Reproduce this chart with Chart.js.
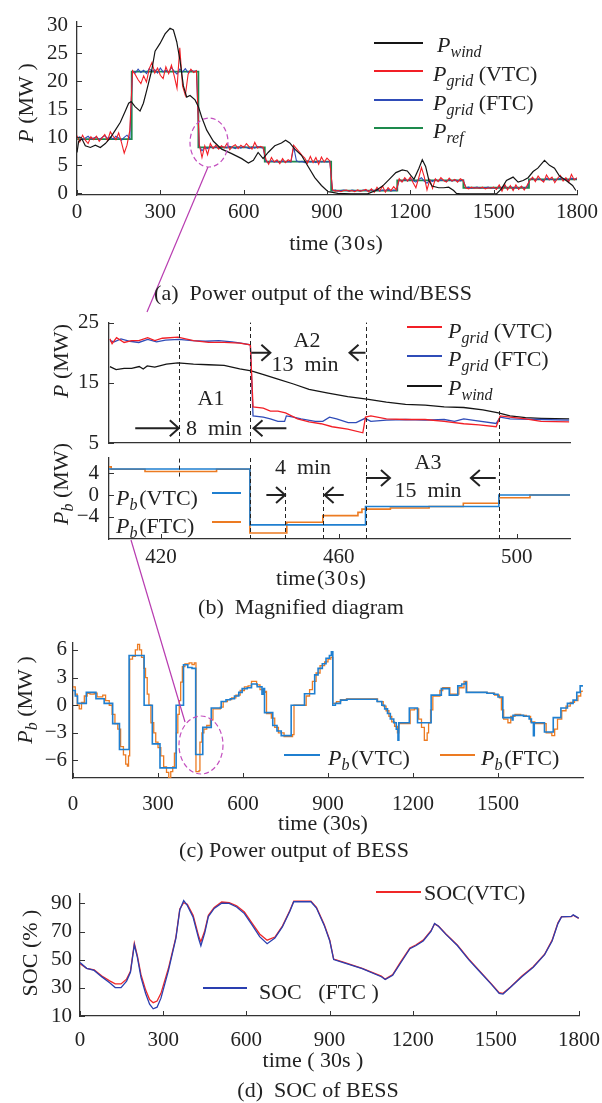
<!DOCTYPE html>
<html>
<head>
<meta charset="utf-8">
<script src="https://cdn.jsdelivr.net/npm/chart.js@4.4.1/dist/chart.umd.min.js"></script>
<style>
  html, body { margin: 0; padding: 0; background: #fff; }
  #page { position: relative; width: 602px; height: 1103px; overflow: hidden; background: #fff;
          font-family: "Liberation Serif", "DejaVu Serif", serif; color: #222; }
  #page canvas { position: absolute; z-index: 1; }
  #deco { position: absolute; left: 0; top: 0; z-index: 2; pointer-events: none; }
  .c, .l, .r { position: absolute; white-space: nowrap; font-size: 21px; line-height: 1; z-index: 3; }
  .c { transform: translate(-50%, -50%); }
  .l { transform: translateY(-50%); font-size: 22px; }
  .r { transform: translate(-50%, -50%) rotate(-90deg); font-size: 22px; }
  .sw { position: absolute; height: 2px; z-index: 3; }
  sub { font-size: 16px; vertical-align: -5px; line-height: 0; }
</style>
</head>
<body>
<div id="page">
  <svg id="deco" width="602" height="1103">
    <ellipse cx="209" cy="142.5" rx="19" ry="24.5" fill="none" stroke="#c34fbf" stroke-width="1.2" stroke-dasharray="5,3"/>
    <line x1="208" y1="167" x2="147" y2="312" stroke="#b83cb0" stroke-width="1.2"/>
    <line x1="131" y1="540" x2="185" y2="722" stroke="#b83cb0" stroke-width="1.2"/>
    <ellipse cx="201" cy="745" rx="22" ry="29" fill="none" stroke="#c34fbf" stroke-width="1.2" stroke-dasharray="5,3"/>
  </svg>
</div>
<script>
// ---------- (a) wind / grid power, time in 30 s steps ----------
const axisTicksA = [0, 300, 600, 900, 1200, 1500, 1800];
const powerTicksA = [0, 5, 10, 15, 20, 25, 30];

const windTime = [0, 6, 18, 30, 48, 66, 84, 102, 120, 138, 156, 174, 186, 195, 209, 227, 239, 251, 269, 281,
  299, 317, 335, 347, 359, 371, 383, 395, 407, 425, 437, 449, 467, 491, 521, 557, 593, 617, 635, 652,
  670, 688, 712, 736, 751, 766, 784, 808, 832, 856, 880, 904, 915, 939, 987, 1046, 1076, 1100, 1124, 1148,
  1171, 1189, 1213, 1231, 1243, 1255, 1267, 1278, 1302, 1320, 1338, 1356, 1366, 1380, 1463, 1510, 1528, 1546, 1570, 1588,
  1606, 1624, 1642, 1659, 1683, 1701, 1719, 1737, 1761, 1784, 1796];
const windPower = [7.3, 9.3, 9.7, 8.5, 8.2, 8.6, 8.2, 8.9, 9.9, 11.3, 12.7, 14.7, 16.1, 16.4, 15.5, 14.7, 16.1, 18.4, 22.0, 25.4,
  26.8, 28.5, 29.5, 29.2, 27.1, 23.7, 19.2, 17.2, 17.5, 16.7, 15.5, 13.6, 11.3, 9.3, 7.9, 7.1, 6.2, 5.4, 5.9, 7.3,
  6.2, 7.3, 8.5, 9.0, 9.5, 9.0, 7.9, 6.8, 4.8, 2.8, 1.4, 0.3, 0.2, 0.0, -0.1, -0.1, 0.5, 1.3, 2.5, 3.7,
  4.2, 4.0, 2.5, 4.5, 6.0, 4.8, 2.3, 1.3, 1.0, 1.0, 1.1, 0.5, 0.0, -0.1, -0.1, -0.1, 0.8, 2.3, 2.9, 2.0,
  2.3, 2.8, 3.9, 4.5, 5.9, 5.0, 4.5, 3.1, 2.3, 1.4, 0.5];

// grid power records, one value every gridStep (30 s units) from 0 to 1800
const gridStep = 10;
const gridVtc = [
  10.3, 9.2, 10.4, 9.5, 8.9, 10.1, 9.6, 10.2, 9.3, 9.9, 10.5, 9.4, 11.0, 10.2, 9.6, 10.8, 9.1, 7.2, 8.6, 11.2,
  21.9, 21.2, 20.3, 19.6, 21.0, 19.9, 22.3, 23.4, 21.5, 22.4, 21.1, 20.5, 22.6, 21.4, 22.9, 21.0, 18.8, 26.0, 19.2, 17.5, 21.3, 22.2, 21.6, 21.9,
  8.8, 6.4, 8.5, 6.9, 8.9, 8.0, 8.6, 7.9, 8.5, 8.1, 8.9, 7.8, 8.4, 8.7, 8.0, 8.6, 8.2, 8.9, 8.3, 7.9, 9.1, 8.1, 8.4, 8.2,
  6.1, 5.2, 6.4, 5.6, 6.0, 5.3, 6.2, 5.5, 6.0, 5.7, 8.6, 8.0, 7.4, 6.8, 6.3, 5.4, 6.6, 5.5, 6.4, 5.2, 6.5, 5.6, 6.3, 5.8,
  0.6, 0.4, 0.5, 0.3, 0.5, 0.6, 0.4, 0.5, 0.3, 0.6, 0.4, 0.5, 0.7, 0.3, 0.8, 0.2, 1.1, 0.4, 1.3, 0.2, 1.0, 0.5, 1.2, 0.6,
  2.6, 2.0, 2.8, 2.2, 2.9, 1.9, 1.0, 2.7, 4.6, 3.0, 0.6, 2.4, 0.9, 2.6, 2.1, 2.8, 2.3, 2.0, 2.7, 2.2, 2.5, 2.0, 2.6, 2.3,
  1.0, 0.8, 1.1, 0.9, 1.0, 0.9, 1.1, 0.8, 1.0, 0.9, 1.1, 0.7, 1.5, 0.4, 1.6, 0.6, 1.4, 0.5, 1.5, 0.7, 1.3, 0.6, 1.4,
  2.3, 2.9, 2.1, 3.1, 2.4, 2.0, 3.3, 2.5, 2.9, 1.9, 2.7, 3.2, 2.2, 2.8, 2.0, 3.4, 2.4, 2.8];
const gridFtc = [
  9.9, 10.1, 9.6, 9.9, 10.2, 9.7, 9.9, 10.1, 9.6, 10.0, 10.3, 9.8, 10.1, 9.7, 10.2, 9.9, 9.5, 10.0, 10.4, 9.8,
  21.9, 21.5, 22.2, 21.6, 22.0, 21.4, 22.3, 21.8, 22.1, 21.5, 22.4, 21.7, 22.0, 21.6, 22.5, 21.8, 21.3, 22.2, 21.7, 22.3, 21.6, 22.0, 21.8, 21.9,
  8.4, 7.6, 8.2, 8.0, 8.4, 8.1, 8.3, 8.0, 8.4, 8.2, 8.1, 8.4, 8.2, 8.0, 8.3, 8.1, 8.4, 8.2, 8.0, 8.3, 8.1, 8.4, 8.2, 8.1,
  5.7, 5.5, 5.8, 5.6, 5.7, 5.5, 5.8, 5.6, 5.7, 5.6, 8.3, 5.8, 5.6, 5.7, 5.5, 5.8, 5.6, 5.7, 5.5, 5.8, 5.6, 5.7, 5.6, 5.7,
  0.5, 0.6, 0.4, 0.5, 0.6, 0.5, 0.4, 0.6, 0.5, 0.5, 0.4, 0.6, 0.5, 0.4, 0.6, 0.5, 0.7, 0.4, 0.6, 0.5, 0.7, 0.4, 0.6, 0.5,
  2.4, 2.1, 2.5, 2.2, 2.6, 2.3, 2.0, 2.5, 2.8, 2.2, 1.8, 2.4, 2.1, 2.5, 2.2, 2.4, 2.3, 2.1, 2.5, 2.2, 2.4, 2.3, 2.2, 2.4,
  1.0, 1.1, 0.9, 1.0, 1.1, 0.9, 1.0, 1.0, 1.1, 0.9, 1.0, 0.8, 1.2, 0.9, 1.3, 0.8, 1.2, 0.9, 1.1, 0.8, 1.2, 0.9, 1.1,
  2.4, 2.7, 2.3, 2.6, 2.5, 2.2, 2.7, 2.4, 2.6, 2.3, 2.5, 2.7, 2.4, 2.6, 2.3, 2.7, 2.5, 2.6];

const refTime = [0, 197, 437, 676, 915, 1153, 1391, 1627, 1800];
const refPower = [9.7, 21.75, 8.2, 5.65, 0.5, 2.3, 1.0, 2.5, 2.5];

// ---------- (b) magnified window ----------
const magTicksX = [420, 460, 500];
const magTicksTop = [5, 15, 25];
const magTicksBottom = [-4, 0, 4];

const magVtcTime = [408.5, 409, 410, 411.7, 413.4, 415, 417, 418.6, 420.3, 423.8, 427.3, 430.7, 434.2, 437.7, 440.1,
  440.7, 443, 444.6, 446.3, 448, 450.7, 453.3, 456, 458.5, 462, 465.4, 466, 467.2, 470.7, 475,
  479.4, 483.7, 488.1, 491.5, 495.4, 496.3, 498.5, 502, 505.5, 511.8];
const magVtc = [22.3, 21.5, 22.5, 21.7, 22.0, 22.0, 22.5, 22.0, 22.4, 22.6, 22.0, 21.7, 21.7, 21.6, 21.3,
  11.0, 10.8, 10.3, 10.3, 10.0, 9.0, 8.5, 8.2, 7.7, 7.3, 6.7, 9.3, 9.5, 9.0, 8.9,
  8.9, 8.6, 8.2, 8.0, 7.7, 9.5, 9.3, 9.0, 8.6, 8.5];
const magFtcTime = [408.5, 409.5, 411, 413, 415, 417, 419, 421, 424, 427, 430, 433, 436, 438, 440.1,
  440.7, 443, 444.6, 446.3, 447.8, 448.2, 449.8, 451.5, 454.7, 456.4, 457.9, 459.5, 462.1, 463.9, 465.9,
  467.2, 470.7, 475, 479.4, 483.7, 486, 488.1, 490.8, 495.4, 496.3, 498.5, 505.5, 511.8];
const magFtc = [22.0, 21.8, 22.3, 21.9, 21.7, 22.2, 21.8, 22.1, 22.2, 22.0, 21.9, 22.0, 21.8, 21.6, 21.3,
  9.5, 9.3, 9.0, 8.6, 8.6, 9.5, 9.3, 9.0, 8.6, 8.6, 9.3, 9.0, 8.4, 8.4, 9.1,
  8.6, 8.8, 8.9, 8.8, 8.9, 8.6, 9.0, 8.7, 8.25, 9.3, 9.0, 8.9, 8.8];
const magWindTime = [408.5, 409.9, 411.7, 413.4, 415.1, 416, 416.9, 418.6, 421.2, 423.8, 427.3, 430.7, 434.2, 437.7, 440.3,
  442.9, 446.3, 449.8, 453.3, 457.6, 462, 466.3, 470.7, 475, 479.4, 483.7, 488.1, 492.4, 495.9, 498.5,
  502, 505.5, 511.8];
const magWind = [17.7, 17.2, 17.4, 17.4, 17.7, 17.3, 17.8, 17.6, 18.1, 18.3, 18.1, 18.0, 17.9, 17.3, 17.0,
  16.4, 15.6, 14.8, 13.9, 13.3, 12.7, 12.3, 11.8, 11.4, 11.3, 11.0, 10.9, 10.5, 10.0, 9.5,
  9.2, 9.1, 9.0];

const magPbVtcTime = [408.3, 440, 466, 496, 512];
const magPbVtc = [4.8, -5.5, -2.1, 0, 0];
const magPbFtcTime = [408.3, 408.8, 416.4, 432.5, 440, 448.3, 456.4, 464.3, 465.2, 471.6, 480.3, 488, 496, 503, 512];
const magPbFtc = [5.2, 4.75, 4.35, 4.75, -7.0, -5.0, -3.8, -3.2, -2.6, -2.4, -2.1, -1.5, -0.5, 0, 0];

// dashed time marks [time, from, to] and arrows [from, to, level]
const marksTop = [[424, 5, 25], [440, 5, 25], [466, 5, 25], [496, 5, 10.3]];
const marksBottom = [[424, 3.4, 6.9], [440, -8.1, 6.9], [448, -8.1, 1.5], [456.4, -8.1, 1.5], [466, -8.1, 6.9], [496, -8.1, 6.9]];
const arrowsTop = [[414.2, 424, 7.45], [448.2, 440.8, 7.45], [440.3, 444.6, 20], [466, 462.4, 20]];
const arrowsBottom = [[443.7, 447.9, 0], [461.1, 456.8, 0], [466.1, 471.5, 3.15], [495.3, 489.7, 3.15]];

// ---------- (c) BESS power ----------
const pbTicksX = [0, 300, 600, 900, 1200, 1500];
const pbTicksY = [-6, -3, 0, 3, 6];
const pbVtcTime = [0, 8, 16, 47, 81, 110, 140, 164, 198, 251, 280, 307, 364, 390, 405, 420, 433, 458, 488, 523,
  540, 555, 570, 585, 597, 615, 630, 650, 667, 673, 676, 705, 720, 735, 770, 817, 853, 865, 880, 893,
  905, 912, 917, 926, 944, 967, 1050, 1073, 1090, 1100, 1110, 1120, 1132, 1141, 1147, 1150, 1187, 1216, 1264, 1300,
  1328, 1358, 1372, 1385, 1388, 1461, 1485, 1500, 1517, 1550, 1553, 1590, 1610, 1618, 1625, 1628, 1664, 1695, 1722, 1745,
  1765, 1778, 1790, 1797];
const pbVtc = [1.6, 1.0, 0.2, 1.4, 0.7, 0.2, -2.0, -4.8, 5.4, 0.0, -4.2, -6.8, 0.0, 4.4, 4.1, 4.0, -5.35, -2.4, -0.3, 0.4,
  0.6, 0.7, 1.0, 1.4, 1.8, 1.9, 2.3, 2.0, 1.2, 1.8, -0.8, -2.2, -2.8, -3.3, 0.0, 1.25, 3.3, 4.0, 4.5, 5.1,
  5.4, 5.8, 0.0, 0.2, 0.55, 0.65, 0.65, 0.4, 0.0, -0.4, -0.9, -1.5, -1.9, -2.6, -3.8, -1.9, -0.3, -1.9, 1.1, 1.8,
  1.1, 2.1, 2.3, 2.5, 1.4, 1.3, 1.2, 0.9, -1.35, -1.6, -1.1, -1.2, -1.5, -1.9, -3.3, -1.9, -2.9, -1.35, -0.3, 0.2,
  0.55, 1.4, 2.1, 2.2];
const pbFtcTime = [0, 8, 15, 22, 30, 40, 50, 60, 75, 85, 95, 105, 115, 128, 138, 148, 158, 168, 178, 186,
  192, 196, 200, 210, 220, 228, 235, 242, 250, 256, 262, 268, 275, 285, 292, 300, 310, 320, 330, 338,
  345, 352, 358, 365, 370, 375, 380, 386, 395, 410, 420, 428, 434, 445, 448, 455, 462, 472, 485, 494,
  520, 530, 545, 560, 575, 590, 605, 618, 630, 648, 660, 670, 680, 683, 700, 712, 725, 745, 775, 780,
  823, 835, 845, 858, 872, 888, 900, 910, 917, 930, 945, 965, 1050, 1075, 1095, 1105, 1115, 1125, 1135, 1145,
  1150, 1190, 1205, 1220, 1230, 1240, 1250, 1255, 1262, 1270, 1295, 1305, 1330, 1362, 1380, 1390, 1462, 1488, 1505, 1512,
  1520, 1535, 1545, 1560, 1580, 1600, 1615, 1630, 1660, 1670, 1690, 1700, 1710, 1725, 1740, 1755, 1770, 1782, 1792, 1797];
const pbFtc = [2.0, 1.2, 0.0, -0.4, 0.3, 1.0, 1.3, 1.2, 1.3, 0.9, 0.9, 1.1, 0.5, 0.0, -1.0, -2.0, -2.6, -4.5, -5.4, -6.4,
  -6.6, -5.5, 5.0, 5.3, 6.0, 6.6, 6.0, 5.2, 4.0, 3.0, 1.2, 0.0, -1.9, -3.0, -4.0, -4.6, -5.5, -6.7, -7.3, -7.9,
  -7.2, -6.7, -5.2, -3.0, -1.0, 0.5, 2.5, 4.2, 4.5, 4.6, 4.4, 4.6, -7.2, -7.1, -4.0, -3.0, -2.6, -2.2, -1.6, -0.4,
  -0.2, 0.4, 0.6, 0.8, 1.1, 1.6, 2.0, 2.1, 2.6, 2.2, 1.7, 1.4, 1.5, -0.9, -1.4, -2.4, -3.0, -3.4, -3.2, 0.0,
  1.0, 1.7, 2.6, 3.5, 4.3, 4.7, 5.0, 5.2, 0.2, 0.4, 0.6, 0.7, 0.7, 0.4, -0.1, -0.6, -1.2, -1.8, -2.3, -3.0,
  -2.0, -0.5, -0.4, -1.5, -2.4, -3.8, -3.0, -1.9, -0.5, 1.0, 1.6, 1.9, 1.2, 1.9, 2.6, 1.4, 1.3, 1.1, 0.8, -0.5,
  -1.5, -1.9, -1.2, -1.0, -1.1, -1.2, -1.8, -2.0, -2.0, -3.0, -3.3, -2.6, -1.5, -0.6, -0.1, 0.3, 0.5, 1.0, 1.5, 1.6];

// ---------- (d) state of charge ----------
const socTicksX = [0, 300, 600, 900, 1200, 1500, 1800];
const socTicksY = [10, 30, 50, 70, 90];
const socTime = [0, 24, 51, 79, 107, 127, 148, 168, 182, 196, 207, 220, 237, 251, 264, 278, 292, 319, 346, 360,
  374, 387, 408, 429, 436, 450, 463, 484, 511, 538, 565, 593, 620, 648, 675, 703, 730, 757, 771, 833,
  853, 881, 901, 915, 950, 1018, 1087, 1101, 1128, 1156, 1190, 1211, 1238, 1266, 1279, 1293, 1320, 1361, 1402, 1443,
  1484, 1512, 1526, 1553, 1594, 1635, 1676, 1703, 1724, 1737, 1772, 1779, 1799];
const socVtc = [47.2, 43.9, 42.8, 38.4, 35.0, 32.8, 32.8, 36.2, 41.7, 61.7, 52.8, 39.4, 28.4, 21.7, 19.5, 20.6, 26.1, 43.9, 66.1, 86.1,
  90.5, 89.4, 81.6, 66.1, 62.8, 70.6, 81.6, 87.2, 91.0, 90.5, 88.3, 83.9, 76.2, 68.3, 63.9, 66.1, 73.9, 85.0, 91.7, 91.7,
  87.2, 75.0, 63.9, 50.5, 48.3, 43.9, 38.4, 36.2, 39.4, 48.3, 58.3, 60.5, 63.9, 70.6, 75.4, 73.9, 68.3, 60.5, 50.5, 41.7,
  32.8, 26.6, 26.1, 30.6, 38.4, 45.0, 53.9, 63.9, 76.2, 80.6, 80.6, 81.6, 79.4];
const socFtc = [48.0, 43.9, 42.4, 37.8, 33.7, 30.2, 30.2, 34.8, 41.1, 60.6, 51.7, 37.4, 25.8, 18.4, 15.1, 16.3, 22.7, 42.2, 65.4, 85.4,
  92.0, 88.6, 80.2, 64.3, 59.9, 69.1, 80.7, 86.5, 90.2, 90.0, 87.5, 82.8, 74.9, 66.4, 61.4, 65.4, 73.3, 84.4, 91.2, 91.2,
  86.7, 74.4, 63.3, 50.1, 48.0, 43.6, 37.9, 35.9, 39.0, 47.5, 57.8, 59.9, 63.3, 70.1, 75.7, 73.8, 68.0, 60.1, 50.1, 41.3,
  32.5, 26.1, 25.6, 30.4, 37.9, 44.7, 53.6, 63.3, 75.7, 80.4, 80.8, 81.9, 79.6];

// ---------- drawing ----------
const page = document.getElementById('page');
const serif = '"Liberation Serif", "DejaVu Serif", serif';
Chart.defaults.font.family = serif;
const signed = v => (v < 0 ? '\u2212' + Math.abs(v) : String(v));
const pts = (xs, ys) => ys.map((y, i) => ({ x: xs[i], y: y }));
const gridPts = vals => vals.map((y, i) => ({ x: i * gridStep, y: y }));

function line(data, color, width, extra) {
  return Object.assign({ data: data, borderColor: color, borderWidth: width, pointRadius: 0, fill: false, tension: 0 }, extra || {});
}

// small tick marks pointing into the plot
const innerTicks = {
  id: 'innerTicks',
  afterDatasetsDraw(chart, args, o) {
    const { ctx, chartArea: a, scales: { x, y } } = chart;
    ctx.save();
    ctx.strokeStyle = '#333';
    ctx.lineWidth = 1;
    if (o.x) x.ticks.forEach(t => {
      const px = Math.round(x.getPixelForValue(t.value)) + 0.5;
      ctx.beginPath(); ctx.moveTo(px, a.bottom); ctx.lineTo(px, a.bottom - 5); ctx.stroke();
    });
    if (o.y) y.ticks.forEach(t => {
      const py = Math.round(y.getPixelForValue(t.value)) + 0.5;
      ctx.beginPath(); ctx.moveTo(a.left, py); ctx.lineTo(a.left + 5, py); ctx.stroke();
    });
    ctx.restore();
  }
};

// dashed time marks and duration arrows of panel (b)
const guides = {
  id: 'guides',
  afterDatasetsDraw(chart, args, o) {
    const { ctx, scales: { x, y } } = chart;
    ctx.save();
    ctx.strokeStyle = '#222';
    ctx.lineWidth = 1;
    ctx.setLineDash([4, 3]);
    (o.marks || []).forEach(([t, lo, hi]) => {
      const px = Math.round(x.getPixelForValue(t)) + 0.5;
      ctx.beginPath(); ctx.moveTo(px, y.getPixelForValue(lo)); ctx.lineTo(px, y.getPixelForValue(hi)); ctx.stroke();
    });
    ctx.setLineDash([]);
    ctx.lineWidth = 2;
    (o.arrows || []).forEach(([from, to, lvl]) => {
      const x0 = x.getPixelForValue(from), x1 = x.getPixelForValue(to), py = y.getPixelForValue(lvl);
      const d = Math.sign(x1 - x0);
      ctx.beginPath();
      ctx.moveTo(x0, py); ctx.lineTo(x1, py);
      ctx.moveTo(x1 - d * 9, py - 8); ctx.lineTo(x1, py); ctx.lineTo(x1 - d * 9, py + 8);
      ctx.stroke();
    });
    ctx.restore();
  }
};

function panel(box, o) {
  const padL = 62, padR = 32, padT = 12, padB = 44;
  const w = padL + box.right - box.left + padR;
  const h = padT + box.bottom - box.top + padB;
  const cv = document.createElement('canvas');
  cv.width = w;
  cv.height = h;
  cv.style.left = (box.left - padL) + 'px';
  cv.style.top = (box.top - padT) + 'px';
  page.appendChild(cv);
  const font = { family: serif, size: o.fontSize || 21 };
  new Chart(cv, {
    type: 'line',
    data: { datasets: o.datasets },
    options: {
      responsive: false,
      animation: false,
      events: [],
      layout: { padding: { top: padT, right: padR, left: 0, bottom: 0 } },
      plugins: {
        legend: { display: false },
        tooltip: { enabled: false },
        innerTicks: { x: o.xMarks !== false, y: true },
        guides: o.guides || {}
      },
      scales: {
        x: {
          type: 'linear', min: o.x[0], max: o.x[1],
          afterFit: s => { s.height = padB; },
          afterBuildTicks: s => { s.ticks = o.xTicks.map(v => ({ value: v })); },
          grid: { display: false, drawTicks: false },
          border: { color: '#333', width: 1.3 },
          ticks: { display: o.xLabels !== false, font: font, color: '#222', padding: o.xPad, maxRotation: 0, autoSkip: false, callback: signed }
        },
        y: {
          type: 'linear', min: o.y[0], max: o.y[1],
          afterFit: s => { s.width = padL; },
          afterBuildTicks: s => { s.ticks = o.yTicks.map(v => ({ value: v })); },
          grid: { display: false, drawTicks: false },
          border: { color: '#333', width: 1.3 },
          ticks: { font: font, color: '#222', padding: o.yPad, autoSkip: false, callback: signed }
        }
      }
    },
    plugins: [innerTicks, guides]
  });
}

const RED = '#f21f26', NAVY = '#2f4cb8', GREEN = '#1d8a4c', BLACK = '#151515';
const SKY = '#1f7fd0', ORANGE = '#ec7b22';

// (a)
panel({ left: 77, right: 577, top: 12, bottom: 195 }, {
  x: [0, 1800], y: [-0.3, 30.7], xTicks: axisTicksA, yTicks: powerTicksA, xPad: 5, yPad: 9,
  datasets: [
    line(pts(windTime, windPower), BLACK, 1.2),
    line(gridPts(gridVtc), RED, 1.1),
    line(gridPts(gridFtc), NAVY, 1.1),
    line(pts(refTime, refPower), GREEN, 1.8, { stepped: 'before' })
  ]
});

// (b) upper
panel({ left: 109, right: 570, top: 312, bottom: 443 }, {
  x: [408.3, 512], y: [5, 25], xTicks: magTicksX, yTicks: magTicksTop, xPad: 6, yPad: 10,
  xLabels: false, xMarks: false,
  guides: { marks: marksTop, arrows: arrowsTop },
  datasets: [
    line(pts(magVtcTime, magVtc), RED, 1.3),
    line(pts(magFtcTime, magFtc), NAVY, 1.3),
    line(pts(magWindTime, magWind), BLACK, 1.3)
  ]
});

// (b) lower
panel({ left: 109, right: 570, top: 447, bottom: 539 }, {
  x: [408.3, 512], y: [-8.1, 6.9], xTicks: magTicksX, yTicks: magTicksBottom, xPad: 6, yPad: 10,
  guides: { marks: marksBottom, arrows: arrowsBottom },
  datasets: [
    line(pts(magPbVtcTime, magPbVtc), SKY, 1.6, { stepped: 'before' }),
    line(pts(magPbFtcTime, magPbFtc), ORANGE, 1.6, { stepped: 'before' })
  ]
});

// (c)
panel({ left: 73, right: 583, top: 636, bottom: 778 }, {
  x: [0, 1800], y: [-7.9, 6.8], xTicks: pbTicksX, yTicks: pbTicksY, xPad: 14, yPad: 6,
  datasets: [
    line(pts(pbVtcTime, pbVtc), SKY, 1.6, { stepped: 'before' }),
    line(pts(pbFtcTime, pbFtc), ORANGE, 1.3, { stepped: 'before' })
  ]
});

// (d)
panel({ left: 80, right: 580, top: 885, bottom: 1016 }, {
  x: [0, 1800], y: [10, 97], xTicks: socTicksX, yTicks: socTicksY, xPad: 12, yPad: 8,
  datasets: [
    line(pts(socTime, socFtc), '#2a3fb0', 1.3),
    line(pts(socTime, socVtc), '#f02828', 1.3)
  ]
});

// ---------- text, legends ----------
function put(cls, x, y, html, style) {
  const el = document.createElement('div');
  el.className = cls;
  el.style.left = x + 'px';
  el.style.top = y + 'px';
  if (style) el.style.cssText += style;
  el.innerHTML = html;
  page.appendChild(el);
}
function swatch(x0, x1, y, color) {
  const el = document.createElement('div');
  el.className = 'sw';
  el.style.left = x0 + 'px';
  el.style.top = (y - 1) + 'px';
  el.style.width = (x1 - x0) + 'px';
  el.style.background = color;
  page.appendChild(el);
}
const P = s => '<i>P</i><sub><i>' + s + '</i></sub>';

// (a)
put('r', 26, 103, '<i>P</i>&nbsp;(MW&nbsp;)');
put('c', 336, 243, 'time&nbsp;(3&#8202;0&#8202;s)', 'font-size:22px');
swatch(374, 423, 43, BLACK);  put('l', 437, 45, P('wind'));
swatch(374, 423, 71, RED);    put('l', 433, 74, P('grid') + '&nbsp;(VTC)');
swatch(374, 423, 100, NAVY);  put('l', 433, 103, P('grid') + '&nbsp;(FTC)');
swatch(374, 423, 128, GREEN); put('l', 433, 131, P('ref'));
put('c', 313, 293, '(a)&nbsp; Power output of the wind/BESS', 'font-size:22px');

// (b)
put('r', 61, 361, '<i>P</i>&nbsp;(MW)');
put('r', 61, 484, P('b') + '&nbsp;(MW)');
swatch(407, 442, 327, RED);   put('l', 448, 331, P('grid') + '&nbsp;(VTC)');
swatch(407, 442, 356, NAVY);  put('l', 448, 359, P('grid') + '&nbsp;(FTC)');
swatch(407, 442, 386, BLACK); put('l', 448, 388, P('wind'));
put('c', 307, 340, 'A2', 'font-size:22px');
put('c', 305, 364, '13&nbsp; min', 'font-size:22px');
put('c', 211, 398, 'A1', 'font-size:22px');
put('c', 214, 428, '8&nbsp; min', 'font-size:22px');
put('c', 303, 467, '4&nbsp; min', 'font-size:22px');
put('c', 428, 462, 'A3', 'font-size:22px');
put('c', 428, 490, '15&nbsp; min', 'font-size:22px');
put('l', 116, 498, P('b') + '&#8202;(VTC)');
swatch(212, 241, 493, SKY);
put('l', 116, 526, P('b') + '&#8202;(FTC)');
swatch(212, 241, 522, ORANGE);
put('c', 321, 578, 'time&#8202;(3&#8202;0&#8202;s)', 'font-size:22px');
put('c', 301, 607, '(b)&nbsp; Magnified diagram', 'font-size:22px');

// (c)
put('r', 25, 700, P('b') + '&nbsp;(MW&nbsp;)');
swatch(284, 320, 755, SKY);    put('l', 328, 758, P('b') + '&#8202;(VTC)');
swatch(440, 475, 755, ORANGE); put('l', 481, 758, P('b') + '&#8202;(FTC)');
put('c', 323, 823, 'time (30s)', 'font-size:22px');
put('c', 294, 850, '(c) Power output of BESS', 'font-size:22px');

// (d)
put('r', 30, 953, 'SOC&nbsp;(%&nbsp;)');
swatch(376, 421, 892, '#f02828'); put('l', 424, 893, 'SOC(VTC)');
swatch(203, 247, 988, '#2a3fb0'); put('l', 259, 992, 'SOC&nbsp;&nbsp;&nbsp;(FTC&nbsp;)');
put('c', 313, 1060, 'time (&nbsp;30s&nbsp;)', 'font-size:22px');
put('c', 318, 1090, '(d)&nbsp; SOC of BESS', 'font-size:22px');
</script>
</body>
</html>
